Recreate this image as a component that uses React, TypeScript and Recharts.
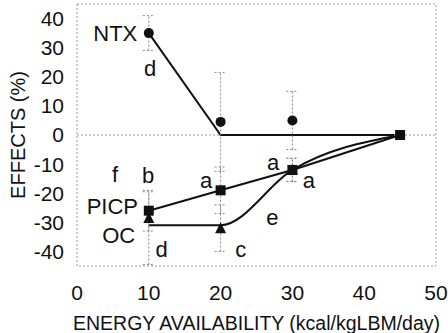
import {
  ComposedChart, XAxis, YAxis, Line, Scatter, ErrorBar, ReferenceLine, ReferenceArea,
} from 'recharts'

const FONT = '"Liberation Sans", Arial, sans-serif'

// energy availability (kcal/kgLBM/day)
const X_VALUES = [10, 20, 30]
const X_END = 45

// mean effects (%) with [low, high] error
const NTX_MEAN = [35, 4.5, 5]
const NTX_ERR = [[6, 6], [17, 17], [10, 10]]
const PICP_MEAN = [-26, -19, -12]
const PICP_ERR = [[7, 7], [8, 8], [4, 4]]
const OC_MEAN = [-28.5, -32, -12]
const OC_ERR = [[16, 9], [8, 8], [4, 4]]

// fitted curves
const NTX_FIT_X = [10, 20, 45]
const NTX_FIT_Y = [35, 0, 0]
const OC_FIT_X = [10, 20, 30, 45]
const OC_FIT_Y = [-31, -31, -12, 0]

const X_TICKS = [0, 10, 20, 30, 40, 50]
const Y_TICKS = [-40, -30, -20, -10, 0, 10, 20, 30, 40]

// annotation text at data coords
const NOTES = [
  { text: 'NTX', x: 8.4, y: 35, anchor: 'end' },
  { text: 'd', x: 10.2, y: 23, anchor: 'middle' },
  { text: 'f', x: 5.3, y: -13.7, anchor: 'middle' },
  { text: 'b', x: 9.9, y: -14, anchor: 'middle' },
  { text: 'a', x: 18, y: -15.8, anchor: 'middle' },
  { text: 'a', x: 27.3, y: -9.6, anchor: 'middle' },
  { text: 'a', x: 32.3, y: -15.5, anchor: 'middle' },
  { text: 'PICP', x: 8.5, y: -24.4, anchor: 'end' },
  { text: 'OC', x: 8.1, y: -34.4, anchor: 'end' },
  { text: 'd', x: 11.8, y: -39.2, anchor: 'middle' },
  { text: 'c', x: 22.8, y: -39.2, anchor: 'middle' },
  { text: 'e', x: 27.2, y: -28.2, anchor: 'middle' },
]

const rows = (mean: number[], err: number[][]) =>
  X_VALUES.map((x, i) => ({ x, y: mean[i], err: err[i] }))

const ntxData = rows(NTX_MEAN, NTX_ERR)
const picpData = [...rows(PICP_MEAN, PICP_ERR), { x: X_END, y: 0, err: [0, 0] }]
const ocData = rows(OC_MEAN, OC_ERR)
const ntxFit = NTX_FIT_X.map((x, i) => ({ x, y: NTX_FIT_Y[i] }))
const ocFit = OC_FIT_X.map((x, i) => ({ x, y: OC_FIT_Y[i] }))
const picpFit = [...X_VALUES, X_END].map((x, i) => ({ x, y: i < 3 ? PICP_MEAN[i] : 0 }))

const Dot = (p: any) => <circle cx={p.cx} cy={p.cy} r={5} fill="#111" />
const Square = (p: any) => <rect x={p.cx - 5} y={p.cy - 5} width={10} height={10} fill="#111" />
const Tri = (p: any) => (
  <polygon points={`${p.cx},${p.cy - 6} ${p.cx - 5.5},${p.cy + 5} ${p.cx + 5.5},${p.cy + 5}`} fill="#111" />
)
const Note = (p: any) => (
  <text x={p.cx} y={p.cy} textAnchor={p.payload.anchor} dominantBaseline="central"
    fontSize={22} fontFamily={FONT} fill="#111">{p.payload.text}</text>
)

const errStyle = { stroke: '#888', strokeWidth: 1, strokeDasharray: '2 2', width: 6 }

export default function App() {
  return (
    <div style={{ position: 'absolute', left: 0, top: 0 }}>
      <ComposedChart width={448} height={333} margin={{ top: 4, right: 12, bottom: 0, left: 0 }}>
        <XAxis
          type="number" dataKey="x" domain={[0, 50]} ticks={X_TICKS} interval={0}
          axisLine={false} tickLine={false} tickSize={0} tickMargin={19} height={67}
          tick={{ fontSize: 21, fill: '#111', fontFamily: FONT }}
          label={{ value: 'ENERGY AVAILABILITY (kcal/kgLBM/day)', position: 'insideBottom', offset: 3, fontSize: 19.5, fill: '#111', fontFamily: FONT }}
        />
        <YAxis
          type="number" dataKey="y" domain={[-45, 45]} ticks={Y_TICKS} interval={0}
          axisLine={false} tickLine={false} tickSize={0} tickMargin={13} width={77}
          tick={{ fontSize: 21, fill: '#111', fontFamily: FONT }}
          label={{
            content: ({ viewBox }: any) => (
              <text transform={`translate(18,${viewBox.y + viewBox.height / 2}) rotate(-90)`}
                textAnchor="middle" dominantBaseline="central" fontSize={20} fontFamily={FONT} fill="#111">
                EFFECTS (%)
              </text>
            ),
          }}
        />
        <ReferenceArea x1={0} x2={50} y1={-45} y2={45} fill="none" stroke="#999" strokeDasharray="2 2" />
        <ReferenceLine y={0} stroke="#999" strokeDasharray="2 2" />

        <Line data={ntxFit} dataKey="y" type="linear" stroke="#111" strokeWidth={2} dot={false} isAnimationActive={false} />
        <Line data={picpFit} dataKey="y" type="linear" stroke="#111" strokeWidth={2} dot={false} isAnimationActive={false} />
        <Line data={ocFit} dataKey="y" type="monotone" stroke="#111" strokeWidth={2} dot={false} isAnimationActive={false} />

        <Scatter data={ntxData} dataKey="y" shape={Dot} isAnimationActive={false}>
          <ErrorBar dataKey="err" direction="y" {...errStyle} />
        </Scatter>
        <Scatter data={ocData} dataKey="y" shape={Tri} isAnimationActive={false}>
          <ErrorBar dataKey="err" direction="y" {...errStyle} />
        </Scatter>
        <Scatter data={picpData} dataKey="y" shape={Square} isAnimationActive={false}>
          <ErrorBar dataKey="err" direction="y" {...errStyle} />
        </Scatter>
        <Scatter data={NOTES} dataKey="y" shape={Note} isAnimationActive={false} />
      </ComposedChart>
    </div>
  )
}
